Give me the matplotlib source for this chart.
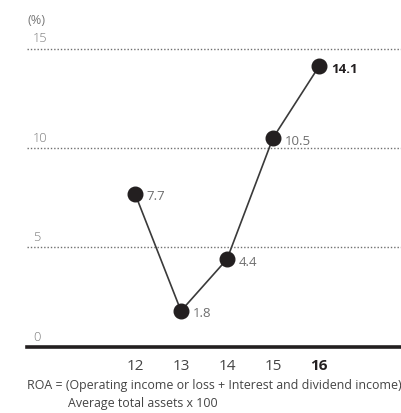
import matplotlib
matplotlib.use("Agg")
import matplotlib.pyplot as plt

years = [12, 13, 14, 15, 16]
year_labels = ["12", "13", "14", "15", "16"]
roa = [7.7, 1.8, 4.4, 10.5, 14.1]
y_ticks = [0, 5, 10, 15]

plt.rcParams["font.family"] = ["Open Sans", "DejaVu Sans"]

W, H = 401, 414
fig = plt.figure(figsize=(W / 100, H / 100), dpi=100)

# axes placed in pixel terms: left edge 27px, zero line at 347.7px, 15 at 49.5px
y0_px, y15_px = 347.7, 49.5
ax = fig.add_axes([27 / W, (H - y0_px) / H, 1 - 27 / W, (y0_px - y15_px) / H])
ax.set_ylim(0, 15)
px_per_year = 46
x12_px = 135
ax.set_xlim(12 - (x12_px - 27) / px_per_year, 12 + (W - x12_px) / px_per_year)

for s in ax.spines.values():
    s.set_visible(False)
ax.set_xticks([])
ax.set_yticks([])

grid_c = "#6f6f6f"
for v in y_ticks[1:]:
    ax.axhline(v, color=grid_c, lw=1.0, ls=(0, (1, 1.4)), clip_on=False, zorder=1)
ax.axhline(0, color="#231f20", lw=2.6, clip_on=False, zorder=2)

label_c = "#7a7a7a"
for v in y_ticks:
    ax.annotate(str(v), (0, v), xycoords=("axes fraction", "data"),
                xytext=(4.5, 3), textcoords="offset points",
                ha="left", va="bottom", fontsize=9.2, color=label_c,
                fontweight="light")
ax.annotate("(%)", (0, 15), xycoords=("axes fraction", "data"),
            xytext=(0, 16), textcoords="offset points",
            ha="left", va="bottom", fontsize=9.2, color=label_c)

ax.plot(years, roa, color="#3a3a3a", lw=1.2, zorder=3, clip_on=False)
ax.plot(years, roa, "o", ms=10.5, color="#231f20", zorder=4, clip_on=False)

for i, (x, v) in enumerate(zip(years, roa)):
    last = i == len(years) - 1
    ax.annotate(f"{v:.1f}", (x, v), xytext=(8.5, -1.5), textcoords="offset points",
                ha="left", va="center", fontsize=9.5,
                color="#231f20" if last else "#6e6e6e",
                fontweight="bold" if last else "normal")

for i, (x, lab) in enumerate(zip(years, year_labels)):
    last = i == len(years) - 1
    ax.annotate(lab, (x, 0), xycoords="data", xytext=(0, -8),
                textcoords="offset points", ha="center", va="top",
                fontsize=11, color="#231f20" if last else "#444444",
                fontweight="bold" if last else "normal")

fig.text(27 / W, 1 - 386 / H, "ROA = (Operating income or loss + Interest and dividend income)",
         ha="left", va="center", fontsize=8.9, color="#444444")
fig.text(68 / W, 1 - 404 / H, "Average total assets x 100",
         ha="left", va="center", fontsize=8.9, color="#444444")

fig.savefig("out.png", dpi=100)
